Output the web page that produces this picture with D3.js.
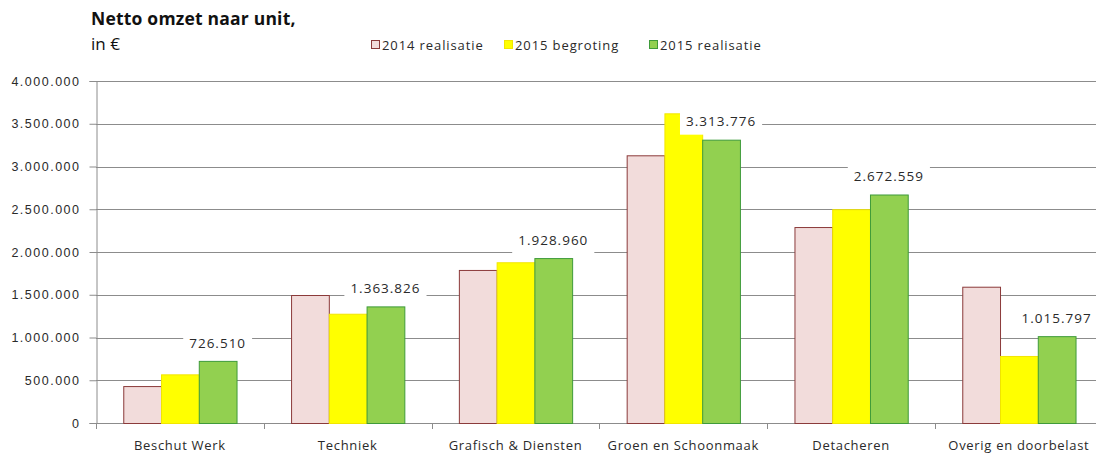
<!DOCTYPE html>
<html>
<head>
<meta charset="utf-8">
<script src="https://cdn.jsdelivr.net/npm/d3@7"></script>
<style>
  body { margin: 0; background: #fff; }
  svg { display: block; font-family: "Open Sans", sans-serif; }
</style>
</head>
<body>
<svg width="1096" height="454"></svg>
<script>
// -------------------- DATA --------------------
const categories = ["Beschut Werk", "Techniek", "Grafisch & Diensten", "Groen en Schoonmaak", "Detacheren", "Overig en doorbelast"];
const seriesNames = ["2014 realisatie", "2015 begroting", "2015 realisatie"];
const real2014 = [432000, 1497000, 1790000, 3131000, 2292000, 1594000];
const begr2015 = [569000, 1278000, 1880000, 3622000, 2500000, 784000];
const real2015 = [726510, 1363826, 1928960, 3313776, 2672559, 1015797];
const yTicks = [0, 500000, 1000000, 1500000, 2000000, 2500000, 3000000, 3500000, 4000000];

const fills = ["#f2dcdb", "#ffff00", "#92d050"];
const strokes = ["#8b3a3a", "#f2e600", "#3f9b3a"];

// -------------------- SCALES --------------------
const svg = d3.select("svg");
const plotLeft = 96, plotTop = 81, plotBottom = 423, bandStep = 167.8;

const x0 = d3.scaleBand()
  .domain(categories)
  .range([plotLeft, plotLeft + bandStep * categories.length])
  .paddingInner(0.325)
  .paddingOuter(0.1625);

const x1 = d3.scaleBand()
  .domain(seriesNames)
  .range([0, x0.bandwidth()]);

const y = d3.scaleLinear().domain([0, 4000000]).range([plotBottom, plotTop]);

const fmt = v => d3.format(",")(v).replace(/,/g, ".");

// -------------------- GRID & AXES --------------------
svg.append("g")
  .selectAll("line")
  .data(yTicks.slice(1))
  .enter()
  .append("line")
  .attr("x1", plotLeft).attr("x2", 1096)
  .attr("y1", d => Math.round(y(d)) + 0.5)
  .attr("y2", d => Math.round(y(d)) + 0.5)
  .attr("stroke", "#8c8c8c");

const yAxis = svg.append("g")
  .attr("transform", `translate(${plotLeft + 0.5},0)`)
  .call(d3.axisLeft(y).tickValues(yTicks).tickFormat(fmt).tickSize(7).tickPadding(9));
yAxis.select(".domain").attr("stroke", "#8c8c8c");
yAxis.selectAll(".tick line").attr("stroke", "#8c8c8c");
yAxis.selectAll(".tick text")
  .attr("fill", "#2a2a2a")
  .style("font-size", "12.5px")
  .style("letter-spacing", "1.5px");

// x axis line and separators
svg.append("line")
  .attr("x1", plotLeft).attr("x2", 1096)
  .attr("y1", plotBottom + 0.5).attr("y2", plotBottom + 0.5)
  .attr("stroke", "#8c8c8c");

svg.append("g")
  .selectAll("line")
  .data(d3.range(categories.length + 1))
  .enter()
  .append("line")
  .attr("x1", i => Math.round(plotLeft + i * bandStep) + 0.5)
  .attr("x2", i => Math.round(plotLeft + i * bandStep) + 0.5)
  .attr("y1", plotBottom)
  .attr("y2", plotBottom + 6)
  .attr("stroke", "#8c8c8c");

svg.append("g")
  .selectAll("text")
  .data(categories)
  .enter()
  .append("text")
  .attr("x", d => x0(d) + x0.bandwidth() / 2)
  .attr("y", 450)
  .attr("text-anchor", "middle")
  .attr("fill", "#2a2a2a")
  .style("font-size", "13px")
  .style("letter-spacing", "0.7px")
  .text(d => d);

// -------------------- BARS --------------------
const series = [real2014, begr2015, real2015];
const groups = svg.append("g")
  .selectAll("g")
  .data(categories)
  .enter()
  .append("g")
  .attr("transform", d => `translate(${x0(d)},0)`);

groups.selectAll("rect")
  .data((d, i) => series.map((s, k) => ({ key: seriesNames[k], k: k, v: s[i] })))
  .enter()
  .append("rect")
  .attr("x", d => x1(d.key) + 0.5)
  .attr("y", d => y(d.v) + 0.5)
  .attr("width", x1.bandwidth())
  .attr("height", d => plotBottom - y(d.v))
  .attr("fill", d => fills[d.k])
  .attr("stroke", d => strokes[d.k])
  .attr("stroke-width", 1);

// -------------------- DATA LABELS --------------------
const labels = svg.append("g")
  .selectAll("g")
  .data(categories)
  .enter()
  .append("g")
  .attr("transform", (d, i) => `translate(${x0(d) + x1(seriesNames[2]) + x1.bandwidth() / 2},${y(real2015[i]) - 18})`);

labels.append("rect").attr("fill", "#fff");
labels.append("text")
  .attr("text-anchor", "middle")
  .attr("dy", "0.35em")
  .attr("fill", "#2a2a2a")
  .style("font-size", "13.5px")
  .style("letter-spacing", "1px")
  .text((d, i) => fmt(real2015[i]));
labels.each(function() {
  const bb = d3.select(this).select("text").node().getBBox();
  d3.select(this).select("rect")
    .attr("x", bb.x - 6).attr("y", -13)
    .attr("width", bb.width + 12).attr("height", 26);
});

// -------------------- TITLE & LEGEND --------------------
svg.append("text")
  .attr("x", 91).attr("y", 25)
  .attr("fill", "#111")
  .style("font-size", "17.5px")
  .style("font-weight", "bold")
  .style("letter-spacing", "0.2px")
  .text("Netto omzet naar unit,");
svg.append("text")
  .attr("x", 91).attr("y", 50)
  .attr("fill", "#111")
  .style("font-size", "17px")
  .text("in €");

const legendX = [371, 504, 649];
const legend = svg.append("g")
  .selectAll("g")
  .data(seriesNames)
  .enter()
  .append("g")
  .attr("transform", (d, i) => `translate(${legendX[i]},40)`);
legend.append("rect")
  .attr("x", 0.5).attr("y", 0.5)
  .attr("width", 8).attr("height", 8)
  .attr("fill", (d, i) => fills[i])
  .attr("stroke", (d, i) => strokes[i]);
legend.append("text")
  .attr("x", 11).attr("y", 9.5)
  .attr("fill", "#2a2a2a")
  .style("font-size", "13px")
  .style("letter-spacing", "0.9px")
  .text(d => d);
</script>
</body>
</html>
